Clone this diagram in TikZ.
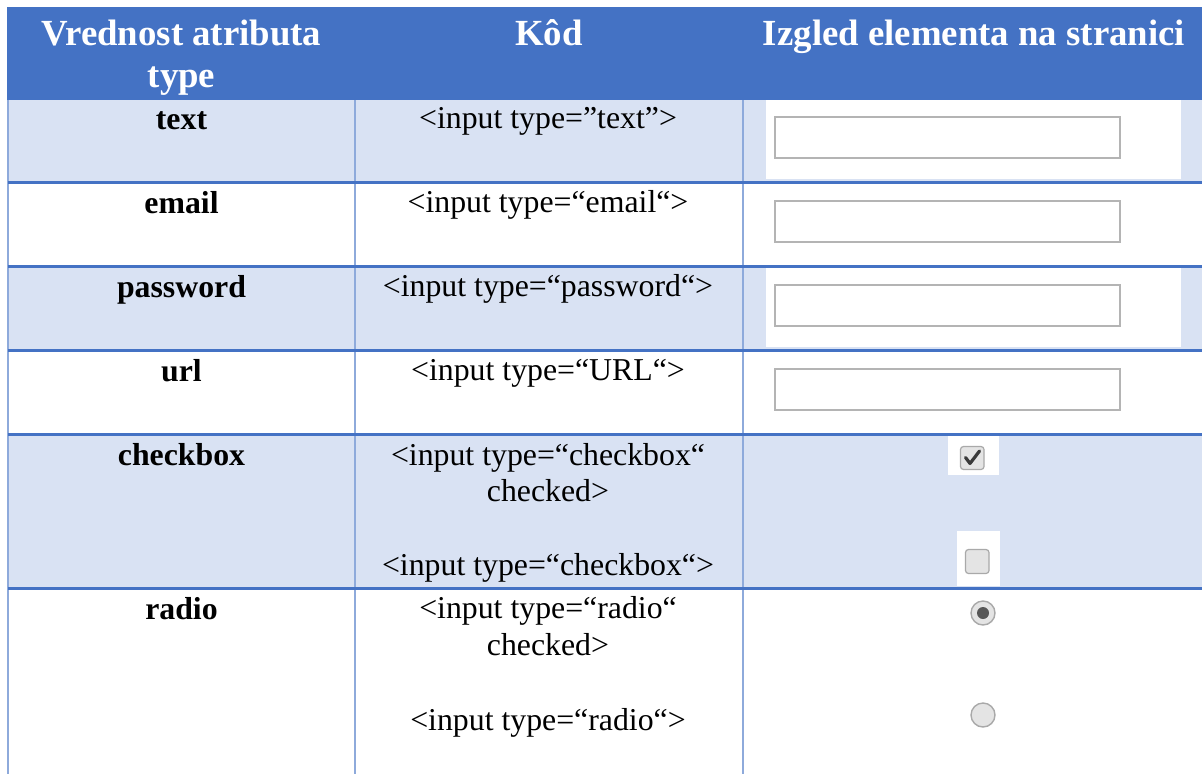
\documentclass[tikz,border=0pt]{standalone}
\usepackage{fontspec}
\setmainfont{Liberation Serif}
\definecolor{hdrblue}{HTML}{4472C4}
\definecolor{rowblue}{HTML}{D9E2F3}
\definecolor{gridlight}{HTML}{8EAADB}
\definecolor{boxgray}{HTML}{B4B4B4}
\definecolor{ctlfill}{HTML}{E4E4E4}
\definecolor{ctlborder}{HTML}{A9A9A9}
\definecolor{ctldark}{HTML}{3A3A3A}
\tikzset{
  hdr/.style={font=\fontsize{36.8}{42}\selectfont\bfseries, text=white, anchor=base, inner sep=0pt},
  keytxt/.style={font=\fontsize{31.8}{36.6}\selectfont\bfseries, anchor=base, inner sep=0pt},
  codetxt/.style={font=\fontsize{31.8}{36.6}\selectfont, anchor=base, inner sep=0pt},
  hline/.style={draw=hdrblue, line width=3pt},
  vline/.style={draw=gridlight, line width=2pt},
  inbox/.style={draw=boxgray, line width=2.2pt, fill=white},
  ctlbox/.style={draw=ctlborder, line width=1.2pt, fill=ctlfill, rounded corners=3pt},
  ctlround/.style={draw=ctlborder, line width=1.4pt, fill=ctlfill},
}
\begin{document}
\begin{tikzpicture}[x=1pt,y=-1pt]
\useasboundingbox (0,0) rectangle (1202,774);
\fill[white] (0,0) rectangle (1202,774);
% header band
\fill[hdrblue] (7,7) rectangle (1202,100);
% shaded rows
\fill[rowblue] (8,100) rectangle (1202,182.5);
\fill[rowblue] (8,266.5) rectangle (1202,350.5);
\fill[rowblue] (8,434.5) rectangle (1202,588.5);
% white backgrounds of the screenshots
\fill[white] (766,100) rectangle (1181,179);
\fill[white] (766,268) rectangle (1181,347);
\fill[white] (948,436) rectangle (999,475);
\fill[white] (957,531) rectangle (1000,586);
% grid
\draw[vline] (8,100) -- (8,774);
\draw[vline] (355,100) -- (355,774);
\draw[vline] (743,100) -- (743,774);
\draw[hline] (8,182.5) -- (1202,182.5);
\draw[hline] (8,266.5) -- (1202,266.5);
\draw[hline] (8,350.5) -- (1202,350.5);
\draw[hline] (8,434.5) -- (1202,434.5);
\draw[hline] (8,588.5) -- (1202,588.5);
% header texts
\node[hdr] (h1a) at (181.5,45) {Vrednost atributa};
\node[hdr] (h1b) at (181.5,87) {type};
\node[hdr] (h2) at (549,45) {Kôd};
\node[hdr] (h3) at (974,45) {Izgled elementa na stranici};
% first column
\node[keytxt] (ktext) at (181.5,129) {text};
\node[keytxt] (kemail) at (181.5,213) {email};
\node[keytxt] (kpass) at (181.5,297) {password};
\node[keytxt] (kurl) at (181.5,381) {url};
\node[keytxt] (kcheck) at (181.5,465) {checkbox};
\node[keytxt] (kradio) at (181.5,619) {radio};
% second column
\node[codetxt] (ctext) at (548,128) {<input type=”text”>};
\node[codetxt] (cemail) at (548,212) {<input type=“email“>};
\node[codetxt] (cpass) at (548,296) {<input type=“password“>};
\node[codetxt] (curl) at (548,380) {<input type=“URL“>};
\node[codetxt] (ccheckA) at (548,465) {<input type=“checkbox“};
\node[codetxt] (ccheckB) at (548,501.5) {checked>};
\node[codetxt] (ccheckC) at (548,575) {<input type=“checkbox“>};
\node[codetxt] (cradioA) at (548,618) {<input type=“radio“};
\node[codetxt] (cradioB) at (548,655.5) {checked>};
\node[codetxt] (cradioC) at (548,730) {<input type=“radio“>};
% third column: input fields
\draw[inbox] (775,117) rectangle (1120,158);
\draw[inbox] (775,201) rectangle (1120,242);
\draw[inbox] (775,285) rectangle (1120,326);
\draw[inbox] (775,369) rectangle (1120,410);
% checkboxes
\draw[ctlbox] (960.5,446.5) rectangle (984,469.5);
\draw[ctldark, line width=3.2pt, line cap=round, line join=round] (965.5,457.5) -- (970,463.5) -- (979.5,451);
\draw[ctlbox] (965.5,549.5) rectangle (989,573.5);
% radio buttons
\draw[ctlround] (983,613) circle (12);
\fill[ctldark!85] (983,613) circle (6);
\draw[ctlround] (983,715) circle (12);
\end{tikzpicture}
\end{document}
